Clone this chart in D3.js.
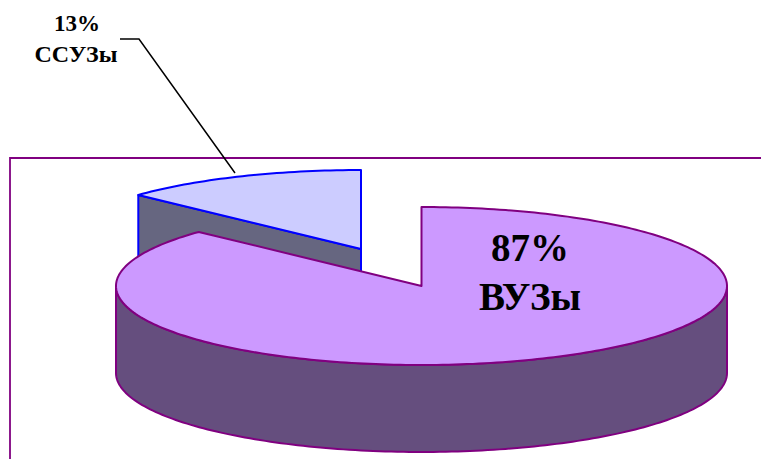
<!DOCTYPE html>
<html>
<head>
<meta charset="utf-8">
<script src="https://cdn.jsdelivr.net/npm/d3@7/dist/d3.min.js"></script>
<style>
html,body{margin:0;padding:0;background:#fff;overflow:hidden}
svg{display:block}
text{font-family:"Liberation Serif","Times New Roman",serif;font-weight:bold;fill:#000;text-anchor:middle}
</style>
</head>
<body>
<svg id="c" width="761" height="459"></svg>
<script>
const categories = ["ВУЗы", "ССУЗы"];
const shares = [87, 13];
const percentLabels = ["87%", "13%"];

const svg = d3.select("#c");
const W = 761, H = 459;
const RX = 305.5, RY = 79, DEPTH = 87;
const centers = [[421.5, 286], [361, 249]];
const tops = ["#CC99FF", "#CCCCFF"];
const sides = ["#654E7E", "#666680"];
const strokes = ["#800080", "#0000FF"];
const SW = [2, 2];

// plot frame (right and bottom run off the picture)
svg.append("path")
  .attr("d", d3.line()([[W + 2, 158], [10, 158], [10, H + 2]]))
  .attr("fill", "none").attr("stroke", "#800080").attr("stroke-width", 1.8);

const arcs = d3.pie().sort(null).value(d => d)(shares);
const line = d3.line();

// projected point of a pie angle (0 = north, clockwise) on a tilted disc
const proj = (c, a, dz = 0) => [c[0] + RX * Math.sin(a), c[1] - RY * Math.cos(a) + dz];
const sample = (a0, a1) => {
  const n = Math.max(2, Math.ceil(Math.abs(a1 - a0) / 0.02));
  return d3.range(n + 1).map(i => a0 + (a1 - a0) * i / n);
};

function drawSlice(i, drawSide) {
  const d = arcs[i], c = centers[i];
  const g = svg.append("g");
  const style = (sel, fill) => sel.attr("fill", fill).attr("stroke", strokes[i])
    .attr("stroke-width", SW[i]).attr("stroke-linejoin", "round");
  drawSide(g, d, c, style);
  style(g.append("path")
    .attr("d", line([c, ...sample(d.startAngle, d.endAngle).map(a => proj(c, a))]) + "Z"), tops[i]);
}

// back slice: flat cut face visible below its front radius
drawSlice(1, (g, d, c, style) => {
  const a = proj(c, d.startAngle);
  style(g.append("path").attr("d", line([
    a, c, [c[0], c[1] + DEPTH], [a[0], a[1] + DEPTH]
  ]) + "Z"), sides[1]);
});

// main slice: curved outer wall across the front half of the disc
drawSlice(0, (g, d, c, style) => {
  const as = sample(Math.PI / 2, Math.PI * 1.5);
  const upper = as.map(a => proj(c, a));
  const lower = as.slice().reverse().map(a => proj(c, a, DEPTH));
  style(g.append("path").attr("d", line([...upper, ...lower]) + "Z"), sides[0]);
});

// leader line of the small slice
svg.append("path")
  .attr("d", line([[120, 39], [139, 39], [235, 173]]))
  .attr("fill", "none").attr("stroke", "#000").attr("stroke-width", 1.5);

const label = (x, y, size, s) => svg.append("text")
  .attr("x", x).attr("y", y).attr("font-size", size).text(s);
label(77, 31, 23, percentLabels[1]);
label(76, 62, 24, categories[1]);
label(530, 261, 39, percentLabels[0]);
label(530, 310, 39, categories[0]);
</script>
</body>
</html>
